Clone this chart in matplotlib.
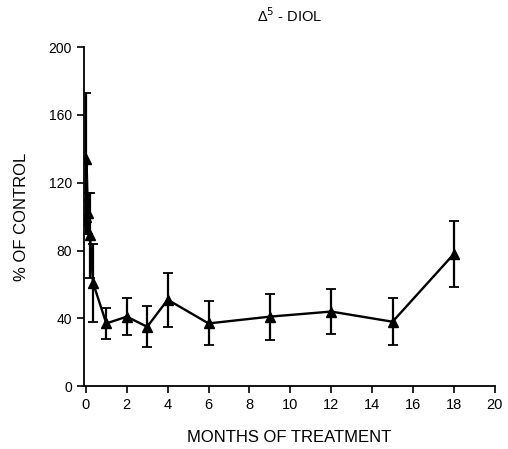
import matplotlib.pyplot as plt

# months of treatment, % of control and error (SEM)
months = [0, 0.03, 0.1, 0.2, 0.35, 1, 2, 3, 4, 6, 9, 12, 15, 18]
pct_control = [100, 134, 102, 89, 61, 37, 41, 35, 51, 37, 41, 44, 38, 78]
err = [10, 39, 12, 25, 23, 9, 11, 12, 16, 13, 13.5, 13.5, 14, 19.5]

plt.rcParams['font.family'] = ['Liberation Sans', 'DejaVu Sans']

fig = plt.figure(figsize=(5.08, 4.49), dpi=100)
ax = fig.add_axes([0.165, 0.140, 0.809, 0.755])

ax.errorbar(months, pct_control, yerr=err, color='black', lw=1.7,
            marker='^', markersize=7, capsize=3.5, elinewidth=1.6, capthick=1.3)

ax.set_xlim(-0.1, 20)
ax.set_ylim(0, 200)
ax.set_xticks(range(0, 21, 2))
ax.set_yticks(range(0, 201, 40))
ax.spines['top'].set_visible(False)
ax.spines['right'].set_visible(False)
ax.spines['left'].set_linewidth(1.3)
ax.spines['bottom'].set_linewidth(1.3)
ax.tick_params(direction='out', length=5, width=1.2, labelsize=10.5)
ax.tick_params(axis='y', labelsize=10)

ax.set_xlabel('MONTHS OF TREATMENT', fontsize=12, labelpad=13)
ax.set_ylabel('% OF CONTROL', fontsize=12, labelpad=14)
ax.set_title('Δ$^5$ - DIOL', fontsize=10.5, pad=18)

fig.savefig('out.png', dpi=100)
